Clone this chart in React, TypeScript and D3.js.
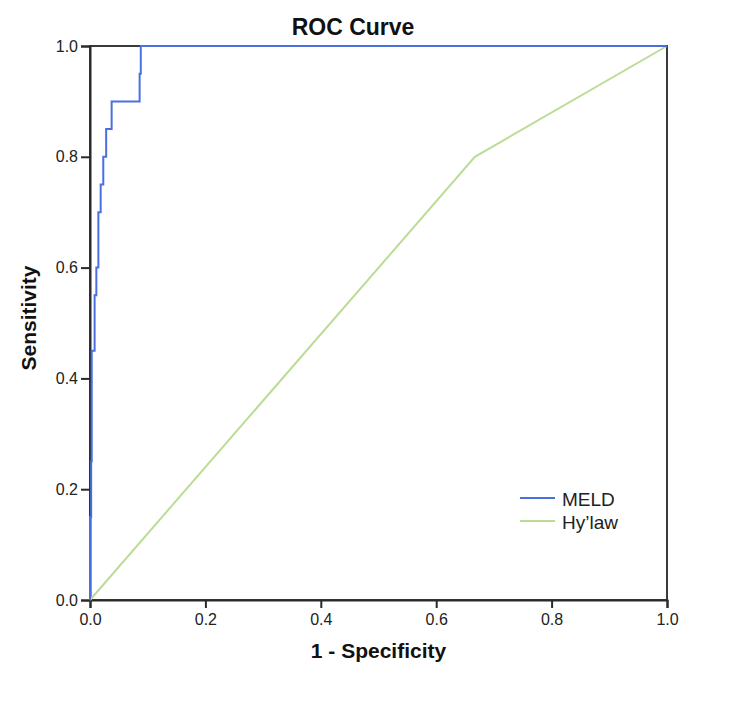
import React, { useEffect, useRef } from 'react';
import * as d3 from 'd3';

// ROC points: [1 - specificity, sensitivity]
const meldFpr = [0, 0, 0.002, 0.002, 0.003, 0.003, 0.008, 0.008, 0.011, 0.011, 0.0145, 0.0145, 0.0185, 0.0185, 0.023, 0.023, 0.028, 0.028, 0.0375, 0.0375, 0.086, 0.086, 0.088, 0.088, 1];
const meldTpr = [0, 0.15, 0.15, 0.25, 0.25, 0.45, 0.45, 0.55, 0.55, 0.6, 0.6, 0.7, 0.7, 0.75, 0.75, 0.8, 0.8, 0.85, 0.85, 0.9, 0.9, 0.95, 0.95, 1, 1];
const hyFpr = [0, 0.667, 1];
const hyTpr = [0, 0.8, 1];
const tickValues = [0, 0.2, 0.4, 0.6, 0.8, 1.0];
const seriesNames = ['MELD', 'Hy\u2019law'];
const seriesColors = ['#4a70e0', '#bcdc96'];

export default function App() {
  const ref = useRef<SVGSVGElement>(null);

  useEffect(() => {
    const width = 732;
    const height = 704;
    const margin = { top: 46, right: 65, bottom: 104, left: 90 };
    const innerW = width - margin.left - margin.right;
    const innerH = height - margin.top - margin.bottom;

    const svg = d3.select(ref.current);
    svg.selectAll('*').remove();
    svg.attr('width', width).attr('height', height);

    const font = "'Liberation Sans', Arial, sans-serif";

    const x = d3.scaleLinear().domain([0, 1]).range([margin.left, margin.left + innerW]);
    const y = d3.scaleLinear().domain([0, 1]).range([margin.top + innerH, margin.top]);

    // frame
    svg.append('rect')
      .attr('x', x(0)).attr('y', y(1))
      .attr('width', x(1) - x(0)).attr('height', y(0) - y(1))
      .attr('fill', 'none').attr('stroke', '#3a3a3a').attr('stroke-width', 2);

    const xAxis = svg.append('g')
      .attr('transform', `translate(0, ${y(0)})`)
      .call(d3.axisBottom(x).tickValues(tickValues).tickFormat(d3.format('.1f')).tickSize(8).tickPadding(6));
    const yAxis = svg.append('g')
      .attr('transform', `translate(${x(0)}, 0)`)
      .call(d3.axisLeft(y).tickValues(tickValues).tickFormat(d3.format('.1f')).tickSize(9).tickPadding(3));

    [xAxis, yAxis].forEach((g) => {
      g.select('.domain').attr('stroke', '#2a2a2a').attr('stroke-width', 2);
      g.selectAll('.tick line').attr('stroke', '#2a2a2a').attr('stroke-width', 2);
      g.selectAll('.tick text').attr('fill', '#222').style('font-size', '16px').style('font-family', font);
    });

    const line = d3.line<[number, number]>().x(d => x(d[0])).y(d => y(d[1]));

    const hyData = hyFpr.map((v, i) => [v, hyTpr[i]] as [number, number]);
    const meldData = meldFpr.map((v, i) => [v, meldTpr[i]] as [number, number]);

    svg.append('path')
      .datum(hyData)
      .attr('d', line)
      .attr('fill', 'none')
      .attr('stroke', seriesColors[1])
      .attr('stroke-width', 2);

    svg.append('path')
      .datum(meldData)
      .attr('d', line)
      .attr('fill', 'none')
      .attr('stroke', seriesColors[0])
      .attr('stroke-width', 2);

    // title and axis labels
    svg.append('text')
      .attr('x', 353).attr('y', 35)
      .attr('text-anchor', 'middle')
      .style('font-family', font).style('font-weight', 'bold').style('font-size', '23px')
      .attr('fill', '#111')
      .text('ROC Curve');

    svg.append('text')
      .attr('x', (x(0) + x(1)) / 2).attr('y', 658)
      .attr('text-anchor', 'middle')
      .style('font-family', font).style('font-weight', 'bold').style('font-size', '21px')
      .attr('fill', '#111')
      .text('1 - Specificity');

    svg.append('text')
      .attr('transform', `translate(36, 318) rotate(-90)`)
      .attr('text-anchor', 'middle')
      .style('font-family', font).style('font-weight', 'bold').style('font-size', '21px')
      .attr('fill', '#111')
      .text('Sensitivity');

    // legend
    const legend = svg.append('g');
    seriesNames.forEach((name, i) => {
      const ly = 498 + i * 23;
      legend.append('line')
        .attr('x1', 520).attr('x2', 555).attr('y1', ly).attr('y2', ly)
        .attr('stroke', seriesColors[i]).attr('stroke-width', 2);
      legend.append('text')
        .attr('x', 562).attr('y', ly + 8)
        .style('font-family', font).style('font-size', '19px')
        .attr('fill', '#222')
        .text(name);
    });
  }, []);

  return <svg ref={ref} style={{ position: 'absolute', left: 0, top: 0, background: '#fff' }} />;
}
